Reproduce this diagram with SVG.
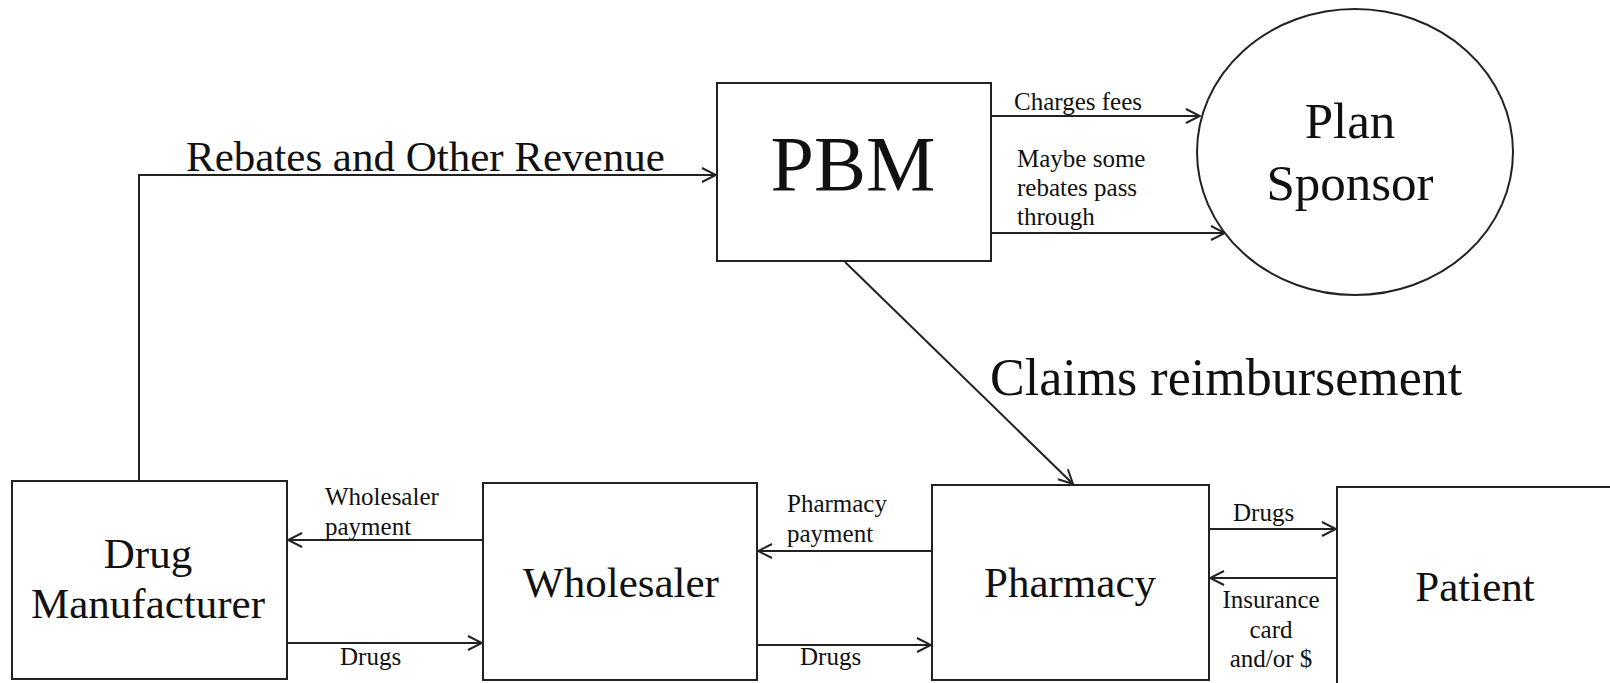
<svg xmlns="http://www.w3.org/2000/svg" width="1610" height="683" viewBox="0 0 1610 683">
<defs>
<style>
.box{fill:#fff;stroke:#222;stroke-width:2}
.ln{fill:none;stroke:#222;stroke-width:2}
text{font-family:"Liberation Serif","Times New Roman",serif;fill:#111}
.big{font-size:43px}
.sm{font-size:25px}
.c{text-anchor:middle}
</style>
<marker id="ah" viewBox="0 0 16 16" refX="15" refY="8" markerWidth="16" markerHeight="16" markerUnits="userSpaceOnUse" orient="auto">
<path d="M1,1 L15,8 L1,15" fill="none" stroke="#222" stroke-width="2"/>
</marker>
</defs>
<rect width="1610" height="683" fill="#fff"/>
<g id="connectors">
<polyline class="ln" points="139,481 139,175 716,175" marker-end="url(#ah)"/>
<line class="ln" x1="991" y1="116" x2="1200" y2="116" marker-end="url(#ah)"/>
<line class="ln" x1="991" y1="233" x2="1225" y2="233" marker-end="url(#ah)"/>
<line class="ln" x1="845" y1="262" x2="1073" y2="484" marker-end="url(#ah)"/>
<line class="ln" x1="483" y1="540" x2="288" y2="540" marker-end="url(#ah)"/>
<line class="ln" x1="287" y1="643" x2="482" y2="643" marker-end="url(#ah)"/>
<line class="ln" x1="932" y1="551" x2="758" y2="551" marker-end="url(#ah)"/>
<line class="ln" x1="757" y1="645" x2="931" y2="645" marker-end="url(#ah)"/>
<line class="ln" x1="1209" y1="529" x2="1336" y2="529" marker-end="url(#ah)"/>
<line class="ln" x1="1337" y1="578" x2="1210" y2="578" marker-end="url(#ah)"/>
<text class="big" x="186" y="171">Rebates and Other Revenue</text>
<text class="sm" x="1014" y="110">Charges fees</text>
<text class="sm" x="1017" y="167">Maybe some</text>
<text class="sm" x="1017" y="196">rebates pass</text>
<text class="sm" x="1017" y="225">through</text>
<text x="990" y="395" font-size="52">Claims reimbursement</text>
<text class="sm" x="325" y="505">Wholesaler</text>
<text class="sm" x="325" y="535">payment</text>
<text class="sm" x="340" y="665">Drugs</text>
<text class="sm" x="787" y="512">Pharmacy</text>
<text class="sm" x="787" y="542">payment</text>
<text class="sm" x="800" y="665">Drugs</text>
<text class="sm" x="1233" y="521">Drugs</text>
<text class="sm c" x="1271" y="608">Insurance</text>
<text class="sm c" x="1271" y="638">card</text>
<text class="sm c" x="1271" y="667">and/or $</text>
</g>
<g id="pbm">
<rect class="box" x="717" y="83" width="274" height="178"/>
<text class="c" x="853" y="190" font-size="78">PBM</text>
</g>
<g id="plan-sponsor">
<ellipse class="box" cx="1355" cy="152" rx="158" ry="143"/>
<text class="c" x="1350" y="138" font-size="51">Plan</text>
<text class="c" x="1350" y="200" font-size="51">Sponsor</text>
</g>
<g id="drug-manufacturer">
<rect class="box" x="12" y="481" width="275" height="198"/>
<text class="big c" x="148" y="568">Drug</text>
<text class="big c" x="148" y="618">Manufacturer</text>
</g>
<g id="wholesaler">
<rect class="box" x="483" y="483" width="274" height="197"/>
<text class="big c" x="621" y="597">Wholesaler</text>
</g>
<g id="pharmacy">
<rect class="box" x="932" y="485" width="277" height="195"/>
<text class="big c" x="1070" y="597">Pharmacy</text>
</g>
<g id="patient">
<rect class="box" x="1337" y="487" width="300" height="250"/>
<text class="big c" x="1475" y="601">Patient</text>
</g>
</svg>
